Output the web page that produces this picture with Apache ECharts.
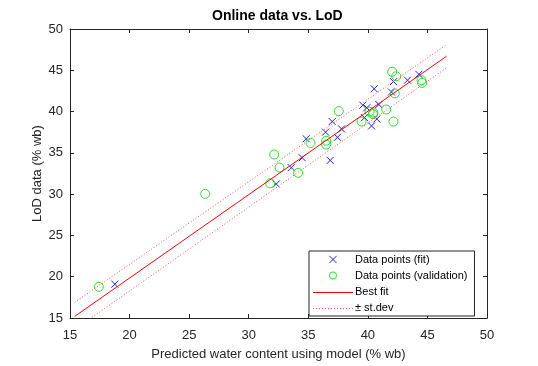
<!DOCTYPE html>
<html>
<head>
<meta charset="utf-8">
<script src="https://cdn.jsdelivr.net/npm/echarts@6/dist/echarts.min.js"></script>
<style>html,body{margin:0;padding:0;background:#fff;}#c{width:538px;height:366px;}</style>
</head>
<body>
<div id="c"></div>
<script>
// Data points used for the fit
var fitX = [18.76, 32.31, 33.57, 34.49, 34.82, 36.84, 36.45, 37.01, 37.45, 37.79, 39.58, 39.91, 39.72, 40.31, 40.75, 40.92, 40.53, 42.15, 41.98, 43.33, 44.28];
var fitY = [19.10, 31.23, 33.21, 34.41, 36.71, 34.09, 37.51, 38.79, 36.88, 37.90, 40.77, 40.46, 39.26, 38.26, 39.10, 40.85, 42.76, 43.63, 42.37, 43.80, 44.51];
// Validation points
var valX = [17.42, 26.35, 31.80, 32.14, 32.58, 34.15, 35.19, 36.50, 36.50, 37.56, 39.47, 40.14, 40.47, 40.42, 41.54, 42.15, 42.04, 42.38, 42.26, 44.50, 44.56];
var valY = [18.78, 30.03, 31.31, 34.80, 33.22, 32.58, 36.20, 36.47, 36.00, 40.05, 38.79, 39.98, 39.86, 39.69, 40.25, 38.79, 44.82, 44.27, 42.20, 43.80, 43.47];
// Best fit line and +/- st.dev lines
var lineX = [15.4, 46.6];
var bestY = [15.2, 46.7];
var upperY = [16.9, 48.1];
var lowerY = [13.6, 45.3];
// Axis ticks
var axisMin = 15, axisMax = 50, axisStep = 5;
var names = ['Data points (fit)', 'Data points (validation)', 'Best fit', '\u00b1 st.dev'];

function pairs(xs, ys) { return xs.map(function (x, i) { return [x, ys[i]]; }); }

var axisColor = '#262626';
var blue = '#1f1fe6', green = '#2fdc2f', red = '#ff0000', pink = '#ff5050';

// legend layout (styling only)
var legLeft = 309, legTop = 251, legPadTop = 3, rowH = 11, rowGap = 5;
function rowCenter(i) { return legTop + legPadTop + rowH / 2 + i * (rowH + rowGap); }

function lineIcon(color, step) {
  var cv = document.createElement('canvas');
  cv.width = 40; cv.height = 9;
  var ctx = cv.getContext('2d');
  ctx.fillStyle = color;
  if (!step) { ctx.fillRect(0, 4, 40, 1); }
  else { for (var k = 0; k < 40; k += step) { ctx.fillRect(k, 4, 1, 1); } }
  return 'image://' + cv.toDataURL();
}

function swatch(i, color, dash) {
  var cy = Math.round(rowCenter(i)) + 0.5;
  return [
    { type: 'rect', z: 100, silent: true,
      shape: { x: legLeft + 2, y: cy - 5, width: 43, height: 10 },
      style: { fill: '#fff', stroke: null } },
    { type: 'line', z: 101, silent: true,
      shape: { x1: legLeft + 4, y1: cy, x2: legLeft + 44, y2: cy },
      style: { stroke: color, lineWidth: 1, lineDash: dash || null } }
  ];
}

function mkX(pos, withLabel) {
  return {
    type: 'value', position: pos, min: axisMin, max: axisMax, interval: axisStep,
    axisLine: { show: true, onZero: false, lineStyle: { color: axisColor, width: 1 } },
    axisTick: { show: true, inside: true, length: 4, lineStyle: { color: axisColor } },
    axisLabel: { show: withLabel, color: axisColor, fontSize: 13, margin: 11, fontFamily: 'Liberation Sans' },
    splitLine: { show: false },
    name: withLabel ? 'Predicted water content using model (% wb)' : '',
    nameLocation: 'middle', nameGap: 30, nameMoveOverlap: false,
    nameTextStyle: { color: axisColor, fontSize: 13, fontFamily: 'Liberation Sans' }
  };
}
function mkY(pos, withLabel) {
  return {
    type: 'value', position: pos, min: axisMin, max: axisMax, interval: axisStep,
    axisLine: { show: true, onZero: false, lineStyle: { color: axisColor, width: 1 } },
    axisTick: { show: true, inside: true, length: 4, lineStyle: { color: axisColor } },
    axisLabel: { show: withLabel, color: axisColor, fontSize: 13, margin: 7, fontFamily: 'Liberation Sans' },
    splitLine: { show: false },
    name: withLabel ? 'LoD data (% wb)' : '',
    nameLocation: 'middle', nameGap: 26, nameMoveOverlap: false,
    nameTextStyle: { color: axisColor, fontSize: 13, fontFamily: 'Liberation Sans' }
  };
}

var chart = echarts.init(document.getElementById('c'), null, { renderer: 'canvas' });
chart.setOption({
  animation: false,
  backgroundColor: '#fff',
  title: {
    text: 'Online data vs. LoD', left: 212, top: 9, padding: 0,
    textStyle: { fontSize: 14, fontWeight: 'bold', color: '#000', fontFamily: 'Liberation Sans' }
  },
  grid: { left: 70, right: 51, top: 29, bottom: 44 },
  xAxis: [mkX('bottom', true), mkX('top', false)],
  yAxis: [mkY('left', true), mkY('right', false)],
  legend: {
    orient: 'vertical', left: legLeft, top: legTop,
    padding: [legPadTop, 7, 3, 4], itemGap: rowGap, itemWidth: 40, itemHeight: 9,
    selectedMode: false,
    backgroundColor: '#fff', borderColor: axisColor, borderWidth: 1, borderRadius: 0,
    textStyle: { fontSize: 11, color: '#000', fontFamily: 'Liberation Sans', padding: [0, 0, 0, -3] },
    itemStyle: { borderWidth: 1 },
    data: names
  },
  graphic: swatch(2, red, null).concat(swatch(3, pink, [1, 2])),
  series: [
    {
      name: names[0], type: 'line', data: pairs(fitX, fitY),
      symbol: 'path://M0,0L8,8M8,0L0,8', symbolSize: 7, showSymbol: true,
      lineStyle: { color: 'transparent', width: 0 },
      itemStyle: { color: 'transparent', borderColor: blue, borderWidth: 1 },
      emphasis: { disabled: true }, z: 2
    },
    {
      name: names[1], type: 'line', data: pairs(valX, valY),
      symbol: 'circle', symbolSize: 9, showSymbol: true,
      lineStyle: { color: 'transparent', width: 0 },
      itemStyle: { color: 'transparent', borderColor: green, borderWidth: 1 },
      emphasis: { disabled: true }, z: 2
    },
    // legend-only entries (no data)
    {
      name: names[2], type: 'scatter', data: [],
      symbol: lineIcon(red, 0), symbolSize: [40, 9],
      itemStyle: { color: red, borderWidth: 0 }
    },
    {
      name: names[3], type: 'scatter', data: [],
      symbol: lineIcon(pink, 3), symbolSize: [40, 9],
      itemStyle: { color: pink, borderWidth: 0 }
    },
    {
      name: 'best-fit-line', type: 'line', data: pairs(lineX, bestY),
      symbol: 'none', showSymbol: false,
      lineStyle: { color: red, width: 1 },
      itemStyle: { color: red },
      emphasis: { disabled: true }, z: 3
    },
    {
      name: 'stdev-upper', type: 'line', data: pairs(lineX, upperY),
      symbol: 'none', showSymbol: false,
      lineStyle: { color: pink, width: 1, type: [1, 2] },
      itemStyle: { color: pink },
      emphasis: { disabled: true }, z: 3
    },
    {
      name: 'stdev-lower', type: 'line', data: pairs(lineX, lowerY),
      symbol: 'none', showSymbol: false,
      lineStyle: { color: pink, width: 1, type: [1, 2] },
      itemStyle: { color: pink },
      emphasis: { disabled: true }, z: 3
    }
  ]
});
</script>
</body>
</html>
